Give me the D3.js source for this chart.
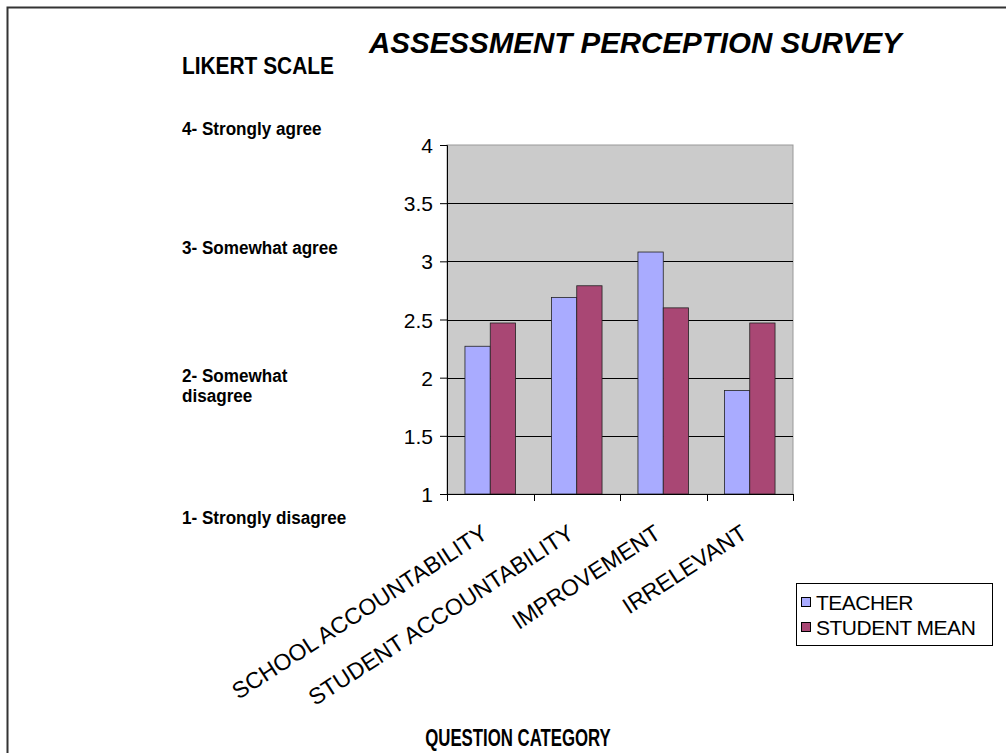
<!DOCTYPE html>
<html>
<head>
<meta charset="utf-8">
<script src="https://cdn.jsdelivr.net/npm/d3@7"></script>
<style>
  body { margin: 0; background: #fff; }
  text { font-family: "Liberation Sans", Arial, sans-serif; fill: #000; }
</style>
</head>
<body>
<svg width="1006" height="753"></svg>
<script>
const categories = ["SCHOOL ACCOUNTABILITY", "STUDENT ACCOUNTABILITY", "IMPROVEMENT", "IRRELEVANT"];
const seriesNames = ["TEACHER", "STUDENT MEAN"];
const teacher = [2.27, 2.69, 3.08, 1.89];
const studentMean = [2.47, 2.79, 2.6, 2.47];
const yTicks = [1, 1.5, 2, 2.5, 3, 3.5, 4];
const likertLabels = [
    ["4- Strongly agree"],
    ["3- Somewhat agree"],
    ["2- Somewhat", "disagree"],
    ["1- Strongly disagree"]
];
const colors = ["#a9abff", "#a94774"];

const svg = d3.select("svg");
const width = +svg.attr("width");
const height = +svg.attr("height");

const plot = { left: 447, right: 793, top: 145, bottom: 494 };

svg.append("rect").attr("width", width).attr("height", height).attr("fill", "#fff");

// outer frame (only top and left edges are visible)
svg.append("path")
    .attr("d", `M7.5,${height} V7.5 H${width}`)
    .attr("fill", "none")
    .attr("stroke", "#333")
    .attr("stroke-width", 2);

const x0 = d3.scaleBand().domain(categories).range([plot.left, plot.right]);
const x1 = d3.scaleBand().domain(seriesNames).range([0, x0.bandwidth()]).paddingOuter(0.71);
const y = d3.scaleLinear().domain([1, 4]).range([plot.bottom, plot.top]);

// plot area
svg.append("rect")
    .attr("x", plot.left).attr("y", plot.top)
    .attr("width", plot.right - plot.left).attr("height", plot.bottom - plot.top)
    .attr("fill", "#cbcbcb")
    .attr("stroke", "#999")
    .attr("stroke-width", 1);

// gridlines
svg.append("g")
    .selectAll("line")
    .data(yTicks.filter(d => d > 1 && d < 4))
    .join("line")
    .attr("x1", plot.left).attr("x2", plot.right)
    .attr("y1", d => Math.round(y(d)) + 0.5).attr("y2", d => Math.round(y(d)) + 0.5)
    .attr("stroke", "#000");

// bars
const data = categories.map((c, i) => ({ cat: c, values: [teacher[i], studentMean[i]] }));
svg.append("g")
    .selectAll("g")
    .data(data)
    .join("g")
    .attr("transform", d => `translate(${x0(d.cat)},0)`)
    .selectAll("rect")
    .data(d => d.values.map((v, j) => ({ key: seriesNames[j], v, j })))
    .join("rect")
    .attr("x", d => x1(d.key))
    .attr("width", x1.bandwidth())
    .attr("y", d => y(d.v))
    .attr("height", d => y(1) - y(d.v))
    .attr("fill", d => colors[d.j])
    .attr("stroke", "#222")
    .attr("stroke-width", 0.8);

// y axis
const yAxis = svg.append("g")
    .attr("transform", `translate(${plot.left},0)`)
    .call(d3.axisLeft(y).tickValues(yTicks).tickSize(7).tickPadding(7).tickFormat(d3.format("")));
yAxis.select(".domain").attr("stroke", "#000");
yAxis.selectAll(".tick line").attr("stroke", "#000");
yAxis.selectAll(".tick text")
    .style("font-size", "21px")
    .attr("dy", "0.36em");

// x axis
const boundaries = categories.map(c => x0(c)).concat([plot.right]);
svg.append("line")
    .attr("x1", plot.left - 7).attr("x2", plot.right)
    .attr("y1", plot.bottom + 0.5).attr("y2", plot.bottom + 0.5)
    .attr("stroke", "#000");
svg.append("g")
    .selectAll("line")
    .data(boundaries)
    .join("line")
    .attr("x1", d => Math.round(d) + 0.5).attr("x2", d => Math.round(d) + 0.5)
    .attr("y1", plot.bottom).attr("y2", plot.bottom + 7)
    .attr("stroke", "#000");

// rotated category labels
svg.append("g")
    .selectAll("text")
    .data(categories)
    .join("text")
    .attr("transform", d => `translate(${x0(d) + x0.bandwidth() / 2 - 1},${plot.bottom + 43}) rotate(-33)`)
    .attr("text-anchor", "end")
    .style("font-size", "23px")
    .text(d => d);

// title
svg.append("text")
    .attr("x", 369).attr("y", 53)
    .style("font-size", "29.5px")
    .style("font-weight", "bold")
    .style("font-style", "italic")
    .text("ASSESSMENT PERCEPTION SURVEY");

// left side: likert scale key (condensed bold text)
svg.append("g")
    .attr("transform", "translate(182,74) scale(0.87,1)")
    .append("text")
    .style("font-size", "24px")
    .style("font-weight", "bold")
    .text("LIKERT SCALE");

const likertY = [135, 254, 382, 524];
const likert = svg.append("g")
    .selectAll("g")
    .data(likertLabels)
    .join("g")
    .attr("transform", (d, i) => `translate(182,${likertY[i]}) scale(0.9,1)`)
    .append("text")
    .style("font-size", "19px")
    .style("font-weight", "bold");
likert.selectAll("tspan")
    .data(d => d)
    .join("tspan")
    .attr("x", 0)
    .attr("dy", (d, i) => i === 0 ? 0 : 20)
    .text(d => d);

// x axis title
svg.append("g")
    .attr("transform", "translate(518,746) scale(0.73,1)")
    .append("text")
    .attr("text-anchor", "middle")
    .style("font-size", "23px")
    .style("font-weight", "bold")
    .text("QUESTION CATEGORY");

// legend
const legend = svg.append("g").attr("transform", "translate(796,583)");
legend.append("rect")
    .attr("x", 0.5).attr("y", 0.5)
    .attr("width", 196).attr("height", 62)
    .attr("fill", "#fff")
    .attr("stroke", "#000");
const items = legend.selectAll("g.item")
    .data(seriesNames)
    .join("g")
    .attr("class", "item")
    .attr("transform", (d, i) => `translate(5,${19 + i * 25})`);
items.append("rect")
    .attr("x", 0.5).attr("y", -4.5)
    .attr("width", 9).attr("height", 9)
    .attr("fill", (d, i) => colors[i])
    .attr("stroke", "#000");
items.append("text")
    .attr("x", 15)
    .attr("dy", "0.36em")
    .style("font-size", "21px")
    .style("letter-spacing", "-0.5px")
    .text(d => d);
</script>
</body>
</html>
